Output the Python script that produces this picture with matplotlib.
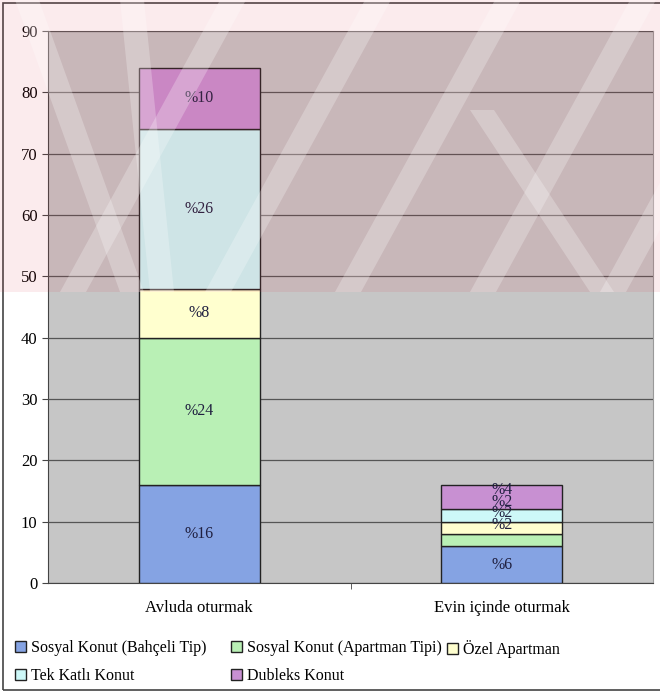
import matplotlib.pyplot as plt
from matplotlib.patches import Rectangle, Polygon
import numpy as np

plt.rcParams['font.family'] = ['Liberation Serif', 'DejaVu Serif']

categories = ['Avluda oturmak', 'Evin içinde oturmak']
series = ['Sosyal Konut (Bahçeli Tip)', 'Sosyal Konut (Apartman Tipi)', 'Özel Apartman',
          'Tek Katlı Konut', 'Dubleks Konut']
values = {
    'Sosyal Konut (Bahçeli Tip)': [16, 6],
    'Sosyal Konut (Apartman Tipi)': [24, 2],
    'Özel Apartman': [8, 2],
    'Tek Katlı Konut': [26, 2],
    'Dubleks Konut': [10, 4],
}
colors = ['#85a3e3', '#b9f0b5', '#ffffcf', '#cdf8f8', '#c890d2']

fig = plt.figure(figsize=(6.6, 6.92), dpi=100)
ax = fig.add_axes([48 / 660, 1 - 583 / 692, 605 / 660, 552 / 692])
ax.set_facecolor('#c6c6c6')

x = np.arange(len(categories))
bottom = np.zeros(len(categories))
# the small labels of the second bar are pushed upward like in the original
label_shift = [0, 2.5, 2.4, 2.2, 1.1]
for i, (name, col) in enumerate(zip(series, colors)):
    vals = np.array(values[name], dtype=float)
    ax.bar(x, vals, 0.4, bottom=bottom, color=col, edgecolor='#222222',
           linewidth=1.0, label=name, zorder=3)
    for j, v in enumerate(vals):
        yy = bottom[j] + v / 2
        if j == 1:
            yy += label_shift[i]
        ax.text(x[j], yy, '%' + str(int(v)), ha='center', va='center',
                fontsize=11.5, color='#202040', zorder=4)
    bottom += vals

ax.set_xlim(-0.5, 1.5)
ax.set_ylim(0, 90)
ax.set_yticks(range(0, 91, 10))
ax.yaxis.grid(True, color='#555555', linewidth=0.9, zorder=2)
ax.set_axisbelow(False)
ax.set_xticks(x)
ax.set_xticklabels(categories, fontsize=12)
ax.set_xticks([0.5], minor=True)
ax.tick_params(axis='x', which='major', length=0, pad=12)
ax.tick_params(axis='x', which='minor', length=4, color='#444444')
ax.tick_params(axis='y', length=4, labelsize=12, color='#444444')
for s in ['top', 'right']:
    ax.spines[s].set_color('#999999')
for s in ['left', 'bottom']:
    ax.spines[s].set_color('#444444')

# legend laid out in three columns like the original
handles, labels = ax.get_legend_handles_labels()
col_items = [[0, 3], [1, 4], [2]]
col_x = [15, 231, 447]
for items, cx in zip(col_items, col_x):
    lg = fig.legend([handles[k] for k in items], [labels[k] for k in items],
                    loc='upper left', bbox_to_anchor=(cx / 660, 1 - 640 / 692),
                    frameon=False, fontsize=11.5, handlelength=0.7, handleheight=0.7,
                    handletextpad=0.3, labelspacing=0.75, borderpad=0, borderaxespad=0)

# watermark from the scanned page, over the upper part
wm = fig.add_axes([0, 0, 1, 1], zorder=10)
wm.set_xlim(0, 660)
wm.set_ylim(692, 0)
wm.axis('off')
wm.add_patch(Rectangle((0, 0), 660, 292, color='#e03c50', alpha=0.1, lw=0))
bands = [(60, 220), (205, 365), (335, 495), (470, 630), (600, 760)]
for xb, xt in bands:
    wm.add_patch(Polygon([(xb, 292), (xb + 26, 292), (xt + 26, 0), (xt, 0)],
                         color='white', alpha=0.25, lw=0))
for xt, yt, xb in [(15, 0, 120), (470, 110, 590), (120, 0, 150)]:
    wm.add_patch(Polygon([(xt, yt), (xt + 24, yt), (xb + 24, 292), (xb, 292)],
                         color='white', alpha=0.25, lw=0))

fig.patches.append(Rectangle((3 / 660, 2 / 692), 1, 687 / 692, transform=fig.transFigure,
                             fill=False, edgecolor='#444444', linewidth=1.2))

fig.savefig('out.png', dpi=100)
